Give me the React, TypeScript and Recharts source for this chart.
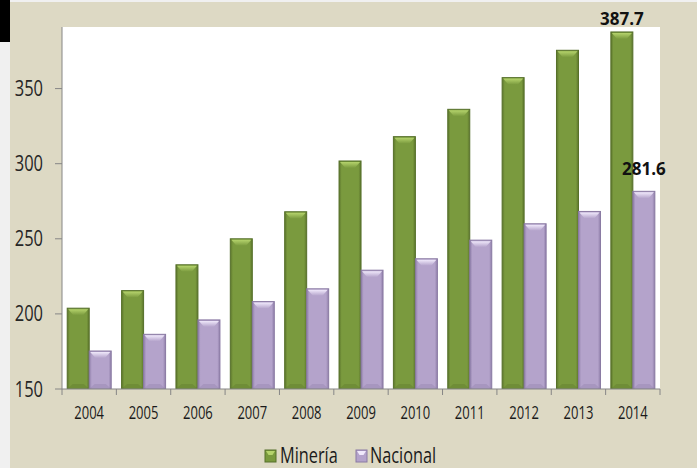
import React from 'react';
import { BarChart, Bar, XAxis, YAxis, CartesianGrid, Legend, LabelList } from 'recharts';

const years = ['2004', '2005', '2006', '2007', '2008', '2009', '2010', '2011', '2012', '2013', '2014'];
const mineria = [203.8, 215.5, 232.7, 250.0, 268.0, 301.8, 318.0, 336.2, 357.3, 375.5, 387.7];
const nacional = [175.3, 186.4, 196.0, 208.2, 216.7, 229.1, 236.7, 249.1, 260.0, 268.2, 281.6];
const yTicks = [150, 200, 250, 300, 350];
const labelledYear = '2014';

const data = years.map((y, i) => ({ year: y, Minería: mineria[i], Nacional: nacional[i] }));

const W = 697;
const H = 468;
const PLOT_LEFT = 62;
const PLOT_RIGHT = 660;
const FONT = '"Open Sans", Lato, sans-serif';
const AXIS = '#868686';
const LEG_H = 28;

const palettes: Record<string, { base: string; dark: string; light: string; edge: string }> = {
  g: { base: '#7a9a3e', dark: '#5c752c', light: '#b5d36c', edge: '#56702a' },
  p: { base: '#b4a3cb', dark: '#8f7ea9', light: '#f0e9fb', edge: '#8a7aa3' },
};

const makeShape = (key: string) => (props: any) => {
  const { x, y, width, height } = props;
  if (!width || !height || height <= 0) return <g />;
  const c = palettes[key];
  const bev = Math.min(7, height / 2);
  return (
    <g>
      <rect x={x} y={y} width={width} height={height} fill={`url(#grad-${key})`} stroke={c.edge} strokeWidth={1} />
      <polygon
        points={`${x + 1},${y + 1} ${x + width - 1},${y + 1} ${x + width * 0.72},${y + bev} ${x + width * 0.28},${y + bev}`}
        fill={`url(#top-${key})`}
      />
      <polygon
        points={`${x + 1},${y + height - 1} ${x + width - 1},${y + height - 1} ${x + width * 0.75},${y + height - 5} ${x + width * 0.25},${y + height - 5}`}
        fill={c.dark}
        opacity={0.35}
      />
    </g>
  );
};

const YTick = (props: any) => {
  const { x, y, payload } = props;
  return (
    <g transform={`translate(${x - 10},${y + 7.5}) scale(1,1.35)`}>
      <text x={0} y={0} textAnchor="end" fontFamily={FONT} fontSize={16.5} fill="#262626">
        {payload.value}
      </text>
    </g>
  );
};

const BW = (PLOT_RIGHT - PLOT_LEFT) / years.length;

const XTick = (props: any) => {
  const { x, y, payload, index } = props;
  return (
    <g>
      <line x1={x - BW / 2} y1={y} x2={x - BW / 2} y2={y + 6} stroke={AXIS} />
      {index === years.length - 1 && <line x1={x + BW / 2} y1={y} x2={x + BW / 2} y2={y + 6} stroke={AXIS} />}
      <g transform={`translate(${x},${y + 29.5}) scale(1,1.35)`}>
        <text x={0} y={0} textAnchor="middle" fontFamily={FONT} fontSize={13} fill="#1a1a1a">
          {payload.value}
        </text>
      </g>
    </g>
  );
};

const makeLabel = (rise: number) => (props: any) => {
  const { x, y, width, value, index } = props;
  if (years[index] !== labelledYear) return null;
  return (
    <g transform={`translate(${x + width / 2},${y - rise}) scale(1,1.05)`}>
      <text x={0} y={0} textAnchor="middle" fontFamily={FONT} fontWeight={700} fontSize={17} fill="#111">
        {Number(value).toFixed(1)}
      </text>
    </g>
  );
};

const LegendSwatch = ({ x, k }: { x: number; k: string }) => {
  const c = palettes[k];
  return (
    <g>
      <rect x={x} y={10} width={11} height={12} fill={c.base} stroke={c.edge} />
      <polygon points={`${x + 1},${11} ${x + 10},${11} ${x + 7.5},${15} ${x + 3.5},${15}`} fill={c.light} />
    </g>
  );
};

const LegendContent = () => (
  <svg width={W} height={LEG_H} style={{ display: 'block', overflow: 'visible' }}>
    <LegendSwatch x={265} k="g" />
    <g transform="translate(280,22.5) scale(1,1.3)">
      <text x={0} y={0} fontFamily={FONT} fontSize={16.3} fill="#1a1a1a">Minería</text>
    </g>
    <LegendSwatch x={356} k="p" />
    <g transform="translate(370,22.5) scale(1,1.3)">
      <text x={0} y={0} fontFamily={FONT} fontSize={16.3} fill="#1a1a1a">Nacional</text>
    </g>
  </svg>
);

export default function App() {
  return (
    <div style={{ position: 'absolute', left: 0, top: 0, width: W, height: H, background: '#f0f0f0', overflow: 'hidden' }}>
      <div style={{ position: 'absolute', left: 10, top: 2, right: 0, bottom: 0, background: '#ddd9c4' }} />
      <div style={{ position: 'absolute', left: 0, top: 0, width: 10, height: 42, background: '#000' }} />
      <div style={{ position: 'absolute', left: 0, top: 0 }}>
        <BarChart
          width={W}
          height={H}
          data={data}
          margin={{ top: 27, right: W - PLOT_RIGHT, left: 0, bottom: 0 }}
          barCategoryGap="9.6%"
          barGap={0}
        >
          <defs>
            {Object.keys(palettes).map((k) => (
              <React.Fragment key={k}>
                <linearGradient id={`grad-${k}`} x1="0" y1="0" x2="1" y2="0">
                  <stop offset="0%" stopColor={palettes[k].dark} />
                  <stop offset="12%" stopColor={palettes[k].base} />
                  <stop offset="88%" stopColor={palettes[k].base} />
                  <stop offset="100%" stopColor={palettes[k].dark} />
                </linearGradient>
                <linearGradient id={`top-${k}`} x1="0" y1="0" x2="0" y2="1">
                  <stop offset="0%" stopColor={palettes[k].light} />
                  <stop offset="100%" stopColor={palettes[k].base} />
                </linearGradient>
              </React.Fragment>
            ))}
          </defs>
          <CartesianGrid fill="#ffffff" horizontal={false} vertical={false} />
          <XAxis
            dataKey="year"
            height={79 - LEG_H}
            stroke={AXIS}
            tickLine={false}
            tickSize={0}
            tickMargin={0}
            interval={0}
            tick={<XTick />}
          />
          <YAxis
            width={PLOT_LEFT}
            domain={[150, 391]}
            ticks={yTicks}
            allowDataOverflow
            stroke={AXIS}
            tickSize={7}
            tickMargin={2}
            tick={<YTick />}
          />
          <Legend verticalAlign="bottom" height={LEG_H} content={<LegendContent />} wrapperStyle={{ left: 0, width: W }} />
          <Bar dataKey="Minería" fill={palettes.g.base} shape={makeShape('g')} isAnimationActive={false}>
            <LabelList dataKey="Minería" content={makeLabel(7)} />
          </Bar>
          <Bar dataKey="Nacional" fill={palettes.p.base} shape={makeShape('p')} isAnimationActive={false}>
            <LabelList dataKey="Nacional" content={makeLabel(16)} />
          </Bar>
        </BarChart>
      </div>
    </div>
  );
}
